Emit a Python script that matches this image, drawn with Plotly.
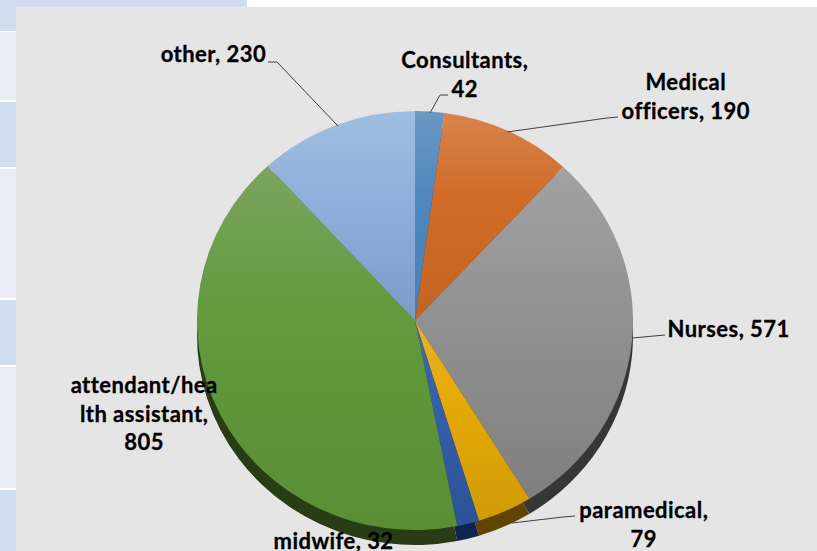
import json
import plotly.graph_objects as go

W, H = 817, 551

categories = ["Consultants", "Medical officers", "Nurses", "paramedical",
              "midwife", "attendant/health assistant", "other"]
values = [42, 190, 571, 79, 32, 805, 230]
label_text = ["Consultants,<br>42", "Medical<br>officers, 190", "Nurses, 571",
              "paramedical,<br>79", "midwife, 32",
              "attendant/hea<br>lth assistant,<br>805", "other, 230"]
label_pos = [(465, 74), (686, 96), (728, 328), (644, 524), (333, 540), (144, 413), (214, 54)]

colors_mid = ["#4F88BE", "#D06C28", "#939393", "#E5AA05", "#3560A8", "#629A3C", "#90B1DC"]
colors_top = ["#6B98C4", "#D8834F", "#A2A2A2", "#E9B12E", "#4068B0", "#7BA460", "#9FBEE0"]
colors_bot = ["#4580B5", "#C26420", "#7F7F7F", "#D19A08", "#2B5296", "#598E35", "#7C9CC8"]
colors_rim = ["#2A4560", "#6B3A18", "#363636", "#5F4500", "#0F2550", "#283D14", "#4A5A70"]

leaders = [
    [(448, 95), (440, 95), (430, 113)],
    [(618, 117), (607, 118), (507, 132)],
    [(665, 335), (632, 338)],
    [(575, 516), (563, 517), (512, 523)],
    [(268, 62), (277, 62), (338, 126)],
]

CX, CY, R = 415, 320.5, 218
SCALE_Y = 0.961
RIM = 15


def px(x):
    return x / W


def py(y):
    return 1 - y / H


def rect(x0, y0, x1, y1, fill):
    return dict(type="rect", xref="paper", yref="paper", layer="below",
                x0=px(x0), x1=px(x1), y0=py(y1), y1=py(y0),
                fillcolor=fill, line=dict(width=0))


rows = [(0, 31, "#D0DCEF"), (32, 100, "#E9EDF6"), (102, 167, "#D0DCEF"),
        (169, 298, "#E9EDF6"), (300, 365, "#D0DCEF"), (367, 488, "#E9EDF6"),
        (490, 551, "#D0DCEF")]
shapes = [rect(0, a, 247 if a == 0 else 16, b, c) for a, b, c in rows]
shapes.append(rect(16, 7, 817, 551, "#E5E5E5"))
for pts in leaders:
    path = "M" + " L".join(f"{px(x)},{py(y)}" for x, y in pts)
    shapes.append(dict(type="path", xref="paper", yref="paper", layer="above",
                       path=path, line=dict(color="#404040", width=1)))

domain = dict(x=[px(CX - R), px(CX + R)], y=[py(CY + R), py(CY - R)])
pie_common = dict(labels=categories, values=values, sort=False, direction="clockwise",
                  rotation=0, textinfo="none", hoverinfo="skip", showlegend=False,
                  domain=domain)

fig = go.Figure()
fig.add_trace(go.Pie(marker=dict(colors=colors_rim, line=dict(width=0)), **pie_common))
fig.add_trace(go.Pie(marker=dict(colors=colors_mid, line=dict(width=0)), **pie_common))

annotations = [dict(x=px(x), y=py(y), xref="paper", yref="paper", text=t, showarrow=False,
                    xanchor="center", yanchor="middle", align="center",
                    font=dict(family="Lato", size=22, color="#000000", weight=700))
               for t, (x, y) in zip(label_text, label_pos)]

fig.update_layout(width=W, height=H, margin=dict(l=0, r=0, t=0, b=0), autosize=False,
                  paper_bgcolor="#FFFFFF", plot_bgcolor="#FFFFFF",
                  shapes=shapes, annotations=annotations)

post = """
document.body.style.margin = '0';
document.documentElement.style.overflow = 'hidden';
var gd = document.getElementById('{plot_id}');
var tops = %s, mids = %s, bots = %s;
var svg = gd.querySelector('.main-svg');
var NS = 'http://www.w3.org/2000/svg';
var defs = document.createElementNS(NS, 'defs');
svg.insertBefore(defs, svg.firstChild);
tops.forEach(function (t, i) {
  var g = document.createElementNS(NS, 'linearGradient');
  g.setAttribute('id', 'slicegrad' + i);
  g.setAttribute('x1', '0'); g.setAttribute('y1', '0');
  g.setAttribute('x2', '0'); g.setAttribute('y2', '1');
  [[0, t], [0.4, mids[i]], [1, bots[i]]].forEach(function (s) {
    var st = document.createElementNS(NS, 'stop');
    st.setAttribute('offset', s[0]);
    st.setAttribute('stop-color', s[1]);
    g.appendChild(st);
  });
  defs.appendChild(g);
});
var groups = gd.querySelectorAll('.pielayer .trace');
var s = %s, cy = %s, rim = %s;
groups.forEach(function (tr, k) {
  var dy = cy * (1 - s) + (k === 0 ? rim : 0);
  tr.setAttribute('transform', 'translate(0,' + dy + ') scale(1,' + s + ')');
  if (k === 1) {
    tr.querySelectorAll('path.surface').forEach(function (p, i) {
      p.style.fill = 'url(#slicegrad' + i + ')';
    });
  }
});
gd.querySelectorAll('.annotation-text').forEach(function (t) {
  t.style.letterSpacing = '0.45px';
  t.style.stroke = '#000';
  t.style.strokeWidth = '0.3px';
});
""" % (json.dumps(colors_top), json.dumps(colors_mid), json.dumps(colors_bot), SCALE_Y, CY, RIM)

fig.write_html("out.html", config={"staticPlot": True}, post_script=post)
